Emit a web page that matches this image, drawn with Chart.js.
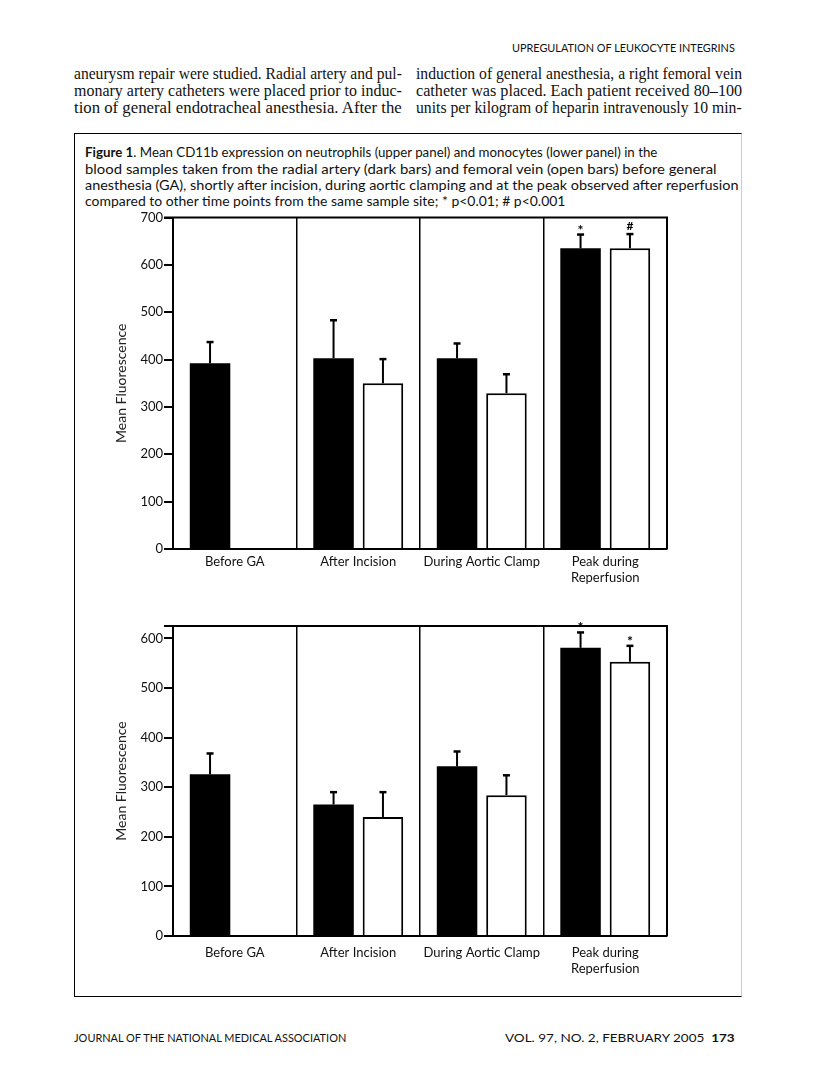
<!DOCTYPE html>
<html>
<head>
<meta charset="utf-8">
<script src="https://cdn.jsdelivr.net/npm/chart.js@4.4.1/dist/chart.umd.min.js"></script>
<style>
  body { margin: 0; background: #fff; width: 816px; height: 1076px; position: relative; overflow: hidden; font-family: Lato, "Noto Sans", sans-serif; color: #111; }
  .t { position: absolute; white-space: nowrap; transform-origin: 0 0; }
  .serif { font-family: "Liberation Serif", serif; font-size: 17px; line-height: 17px; }
  .cap { font-size: 13.5px; line-height: 16px; }
  .small { font-size: 11.5px; line-height: 13px; }
  #box { position: absolute; left: 74px; top: 133px; width: 668px; height: 864px; border: 1.5px solid #000; border-right-color: #ccc; box-sizing: border-box; }
  canvas { position: absolute; }
</style>
</head>
<body>
<div class="t small" style="left:512px; top:41px;" data-w="223">UPREGULATION OF LEUKOCYTE INTEGRINS</div>

<div class="t serif" style="left:74px; top:65px;" data-w="328">aneurysm repair were studied. Radial artery and pul-</div>
<div class="t serif" style="left:74px; top:82px;" data-w="328">monary artery catheters were placed prior to induc-</div>
<div class="t serif" style="left:74px; top:99px;" data-w="328">tion of general endotracheal anesthesia. After the</div>
<div class="t serif" style="left:416px; top:65px;" data-w="326">induction of general anesthesia, a right femoral vein</div>
<div class="t serif" style="left:416px; top:82px;" data-w="326">catheter was placed. Each patient received 80–100</div>
<div class="t serif" style="left:416px; top:99px;" data-w="326">units per kilogram of heparin intravenously 10 min-</div>

<div id="box"></div>
<div class="t cap" style="left:85px; top:144px;" data-w="572"><b>Figure 1</b>. Mean CD11b expression on neutrophils (upper panel) and monocytes (lower panel) in the</div>
<div class="t cap" style="left:85px; top:161px;" data-w="632">blood samples taken from the radial artery (dark bars) and femoral vein (open bars) before general</div>
<div class="t cap" style="left:85px; top:177px;" data-w="654">anesthesia (GA), shortly after incision, during aortic clamping and at the peak observed after reperfusion</div>
<div class="t cap" style="left:85px; top:193px;" data-w="480">compared to other time points from the same sample site; * p&lt;0.01; # p&lt;0.001</div>

<canvas id="neutrophilChart" width="580" height="390" style="left:100px; top:200px;"></canvas>
<canvas id="monocyteChart" width="580" height="390" style="left:100px; top:606px;"></canvas>

<div class="t small" style="left:74px; top:1031px;" data-w="272">JOURNAL OF THE NATIONAL MEDICAL ASSOCIATION</div>
<div class="t small" style="left:505px; top:1031px;" data-w="230">VOL. 97, NO. 2, FEBRUARY 2005 &nbsp;<b>173</b></div>

<script>
// time points
const categories = ['Before GA', 'After Incision', 'During Aortic Clamp', ['Peak during', 'Reperfusion']];

// upper panel: neutrophils
const neutArtery = [392, 403, 403, 635];
const neutArteryErr = [45, 80, 31, 29];
const neutArteryMarks = ['', '', '', '*'];
const neutVein = [null, 350, 329, 635];
const neutVeinErr = [null, 51, 40, 30];
const neutVeinMarks = ['', '', '', '#'];

// lower panel: monocytes
const monoArtery = [326, 265, 342, 581];
const monoArteryErr = [42, 25, 30, 31];
const monoArteryMarks = ['', '', '', '*'];
const monoVein = [null, 240, 284, 553];
const monoVeinErr = [null, 50, 40, 32];
const monoVeinMarks = ['', '', '', '*'];

const neutAxisMax = 700;
const monoAxisMax = 625;

const tickFont = { family: 'Lato', size: 13 };

// upward-only error bars plus significance marks
const errorBars = {
    id: 'errorBars',
    afterDatasetsDraw(chart) {
        const ctx = chart.ctx;
        const yScale = chart.scales.y;
        chart.data.datasets.forEach((ds, i) => {
            const meta = chart.getDatasetMeta(i);
            meta.data.forEach((bar, j) => {
                const v = ds.data[j];
                const e = ds.errors[j];
                if (v == null || e == null) return;
                const top = yScale.getPixelForValue(v + e);
                ctx.save();
                ctx.strokeStyle = '#000';
                ctx.lineWidth = 2;
                ctx.beginPath();
                ctx.moveTo(bar.x, bar.y);
                ctx.lineTo(bar.x, top);
                ctx.stroke();
                ctx.lineWidth = 2.5;
                ctx.beginPath();
                ctx.moveTo(bar.x - 3.5, top);
                ctx.lineTo(bar.x + 3.5, top);
                ctx.stroke();
                if (ds.marks[j]) {
                    const star = ds.marks[j] === '*';
                    ctx.fillStyle = '#000';
                    ctx.font = 'bold ' + (star ? 14 : 12) + 'px Lato';
                    ctx.textAlign = 'center';
                    ctx.textBaseline = 'alphabetic';
                    ctx.fillText(ds.marks[j], bar.x, top - (star ? 0 : 4));
                }
                ctx.restore();
            });
        });
    }
};

// top and right edge of the plot box
const frame = {
    id: 'frame',
    afterDraw(chart) {
        const { ctx, chartArea: a } = chart;
        ctx.save();
        ctx.strokeStyle = '#000';
        ctx.lineWidth = 2;
        ctx.beginPath();
        ctx.moveTo(a.left - 9, a.top);
        ctx.lineTo(a.right, a.top);
        ctx.lineTo(a.right, a.bottom);
        ctx.stroke();
        ctx.restore();
    }
};

function makeChart(id, cfg) {
    const canvas = document.getElementById(id);
    return new Chart(canvas.getContext('2d'), {
        type: 'bar',
        data: {
            labels: categories,
            datasets: [
                {
                    label: 'Radial artery',
                    data: cfg.artery,
                    errors: cfg.arteryErr,
                    marks: cfg.arteryMarks,
                    backgroundColor: '#000',
                    borderWidth: 0
                },
                {
                    label: 'Femoral vein',
                    data: cfg.vein,
                    errors: cfg.veinErr,
                    marks: cfg.veinMarks,
                    backgroundColor: '#fff',
                    borderColor: '#000',
                    borderWidth: 2
                }
            ]
        },
        options: {
            responsive: false,
            animation: false,
            devicePixelRatio: 1,
            categoryPercentage: 0.8,
            barPercentage: 0.82,
            layout: { padding: { top: cfg.padTop, right: 13, left: 0, bottom: 0 } },
            plugins: {
                legend: { display: false },
                tooltip: { enabled: false }
            },
            scales: {
                x: {
                    grid: { color: '#000', lineWidth: 1.5, drawTicks: false, offset: true },
                    border: { color: '#000', width: 2 },
                    ticks: { color: '#111', font: tickFont, padding: cfg.labelPad, maxRotation: 0, autoSkip: false },
                    afterFit(scale) { scale.height = cfg.xHeight; }
                },
                y: {
                    min: 0,
                    max: cfg.yMax,
                    grid: { color: '#000', lineWidth: 2, drawOnChartArea: false, tickLength: 9 },
                    border: { color: '#000', width: 2 },
                    ticks: { stepSize: 100, includeBounds: false, color: '#111', font: tickFont, padding: 1 },
                    title: {
                        display: true,
                        text: 'Mean Fluorescence',
                        color: '#222',
                        font: { family: 'Lato', size: 14 },
                        padding: { top: 13, bottom: 0 }
                    },
                    afterFit(scale) { scale.width = 73; }
                }
            }
        },
        plugins: [errorBars, frame]
    });
}

makeChart('neutrophilChart', {
    artery: neutArtery, arteryErr: neutArteryErr, arteryMarks: neutArteryMarks,
    vein: neutVein, veinErr: neutVeinErr, veinMarks: neutVeinMarks,
    yMax: neutAxisMax, padTop: 17.5, xHeight: 41, labelPad: 5
});

makeChart('monocyteChart', {
    artery: monoArtery, arteryErr: monoArteryErr, arteryMarks: monoArteryMarks,
    vein: monoVein, veinErr: monoVeinErr, veinMarks: monoVeinMarks,
    yMax: monoAxisMax, padTop: 20, xHeight: 60, labelPad: 9
});

// stretch or squeeze each printed line to the width it has on the page
function fitLines() {
    document.querySelectorAll('.t[data-w]').forEach(el => {
        const target = +el.dataset.w;
        const natural = el.offsetWidth;
        el.style.transform = 'scaleX(' + (target / natural) + ')';
    });
}
if (document.fonts && document.fonts.ready) {
    document.fonts.ready.then(fitLines);
} else {
    fitLines();
}
</script>
</body>
</html>
